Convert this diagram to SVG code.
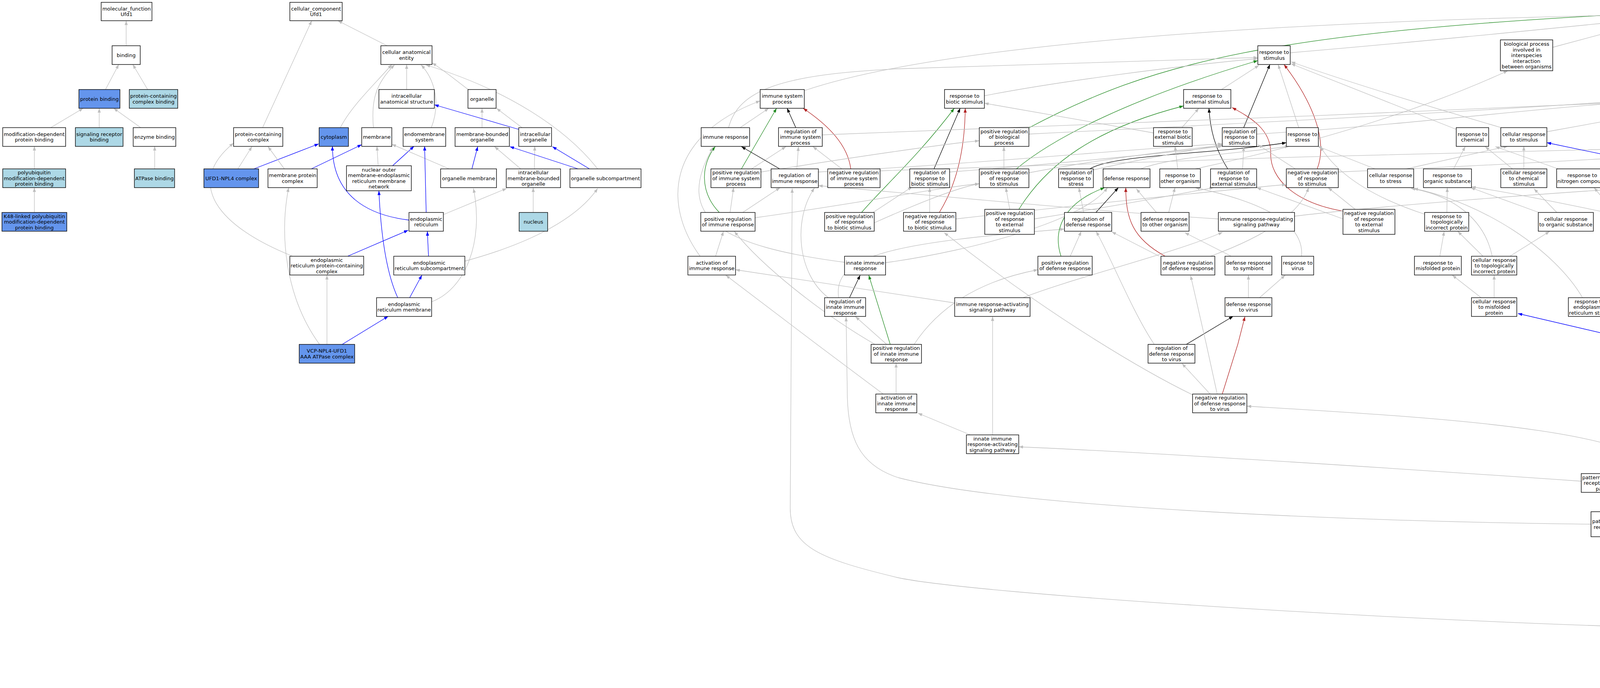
<svg xmlns="http://www.w3.org/2000/svg" width="6843" height="1760" viewBox="0 0 6843 1760">
<style>
.n rect{fill:#fff;stroke:#000;stroke-width:1.4}
.n.blue rect{fill:#6495ED}
.n.lb rect{fill:#ADD8E6}
.n text{font-family:"DejaVu Sans","Liberation Sans",sans-serif;font-size:13px;text-anchor:middle;fill:#000}
.e path{fill:none;stroke-width:1.3}
.e .g{stroke:#bfbfbf;marker-end:url(#mg)}
.e .k{stroke:#000;marker-end:url(#mk)}
.e .b{stroke:#0000ff;marker-end:url(#mb)}
.e .gr{stroke:#228b22;marker-end:url(#mgr)}
.e .r{stroke:#b22222;marker-end:url(#mr)}
</style>
<defs>
<marker id="mg" markerUnits="userSpaceOnUse" markerWidth="11" markerHeight="8" refX="11" refY="4" orient="auto" viewBox="0 0 11 8"><path d="M0,0 L11,4 L0,8 z" fill="#bfbfbf"/></marker>
<marker id="mk" markerUnits="userSpaceOnUse" markerWidth="11" markerHeight="8" refX="11" refY="4" orient="auto" viewBox="0 0 11 8"><path d="M0,0 L11,4 L0,8 z" fill="#000"/></marker>
<marker id="mb" markerUnits="userSpaceOnUse" markerWidth="11" markerHeight="8" refX="11" refY="4" orient="auto" viewBox="0 0 11 8"><path d="M0,0 L11,4 L0,8 z" fill="#0000ff"/></marker>
<marker id="mgr" markerUnits="userSpaceOnUse" markerWidth="11" markerHeight="8" refX="11" refY="4" orient="auto" viewBox="0 0 11 8"><path d="M0,0 L11,4 L0,8 z" fill="#228b22"/></marker>
<marker id="mr" markerUnits="userSpaceOnUse" markerWidth="11" markerHeight="8" refX="11" refY="4" orient="auto" viewBox="0 0 11 8"><path d="M0,0 L11,4 L0,8 z" fill="#b22222"/></marker>
</defs>
<rect width="6843" height="1760" fill="#fff"/>
<g id="edges" class="e">
<path class="g" d="M323,117 L323,53"/>
<path class="g" d="M270,229 L304,165"/>
<path class="g" d="M378,229 L340,165"/>
<path class="g" d="M129,327 L213,277"/>
<path class="g" d="M254,327 L254,277"/>
<path class="g" d="M361,327 L291,277"/>
<path class="g" d="M88,432 L88,374"/>
<path class="g" d="M396,432 L396,374"/>
<path class="g" d="M88,543 L88,480"/>
<path class="g" d="M991,117 L865,53"/>
<path class="g" d="M672,327 L798,53"/>
<path class="g" d="M1041,229 L1041,165"/>
<path class="g" d="M871,327 C900,270 960,215 1003,165"/>
<path class="g" d="M956,327 C950,260 960,215 1010,166"/>
<path class="g" d="M1104,327 C1130,260 1110,200 1078,166"/>
<path class="g" d="M1200,230 C1160,200 1130,175 1106,161"/>
<path class="g" d="M1530,432 C1450,330 1300,230 1090,166"/>
<path class="g" d="M1234,327 L1234,277"/>
<path class="g" d="M1337,327 L1271,277"/>
<path class="b" d="M1328,331 L1112,268"/>
<path class="g" d="M609,432 L645,375"/>
<path class="b" d="M650,432 L816,368"/>
<path class="g" d="M728,432 L686,375"/>
<path class="b" d="M797,432 L926,370"/>
<path class="g" d="M968,424 L965,374"/>
<path class="b" d="M1005,424 L1060,374"/>
<path class="g" d="M1150,432 L1003,369"/>
<path class="b" d="M1208,432 L1223,375"/>
<path class="g" d="M1333,432 L1266,375"/>
<path class="g" d="M1368,432 L1369,374"/>
<path class="b" d="M1480,432 L1305,375"/>
<path class="b" d="M1509,432 L1414,375"/>
<path class="g" d="M1365,543 L1365,480"/>
<path class="b" d="M1047,563 C940,550 851,500 851,374"/>
<path class="b" d="M1091,543 L1087,374"/>
<path class="g" d="M1135,549 L1297,482"/>
<path class="g" d="M748,655 C560,580 470,470 598,366"/>
<path class="b" d="M891,655 L1045,589"/>
<path class="b" d="M1097,655 L1094,592"/>
<path class="g" d="M1190,668 C1330,630 1470,570 1530,482"/>
<path class="b" d="M1018,761 C990,700 975,600 970,488"/>
<path class="b" d="M1049,761 L1080,704"/>
<path class="g" d="M1105,772 C1190,740 1240,620 1212,482"/>
<path class="g" d="M837,881 L837,704"/>
<path class="g" d="M818,881 C730,760 715,600 739,480"/>
<path class="b" d="M876,881 L994,809"/>
<path class="g" d="M4310,117 L4310,53"/>
<path class="k" d="M4216,229 C4205,150 4230,90 4271,53"/>
<path class="g" d="M4418,229 C4420,150 4400,90 4352,53"/>
<path class="g" d="M4241,229 L4290,165"/>
<path class="g" d="M3975,121 L4248,48"/>
<path class="gr" d="M2634,327 C2950,160 3250,80 4248,32"/>
<path class="r" d="M4710,326 L4356,53"/>
<path class="g" d="M2059,232 C2300,150 2900,60 4248,37"/>
<path class="g" d="M3303,135 C3600,110 3900,80 4248,45"/>
<path class="g" d="M5033,132 C4800,95 4500,50 4373,34"/>
<path class="g" d="M5712,232 C5500,150 4800,60 4373,40"/>
<path class="g" d="M6236,244 C5900,170 5000,60 4373,28"/>
<path class="g" d="M2520,245 C2700,210 3000,170 3220,150"/>
<path class="g" d="M3127,229 L3223,167"/>
<path class="g" d="M5096,229 L5096,165"/>
<path class="g" d="M5216,229 L5132,165"/>
<path class="g" d="M5341,229 L5161,163"/>
<path class="g" d="M5490,230 L5161,157"/>
<path class="g" d="M1865,327 C1890,230 2000,190 2300,176 L3220,147"/>
<path class="g" d="M1894,327 L1968,277"/>
<path class="k" d="M2037,326 L2015,277"/>
<path class="gr" d="M1898,432 L1988,277"/>
<path class="r" d="M2178,432 C2170,370 2120,320 2056,277"/>
<path class="g" d="M1924,432 L2012,375"/>
<path class="g" d="M2040,432 L2044,375"/>
<path class="g" d="M2155,432 L2081,375"/>
<path class="k" d="M1996,432 L1898,375"/>
<path class="gr" d="M1841,543 C1790,490 1795,420 1831,375"/>
<path class="g" d="M1869,543 L1878,480"/>
<path class="g" d="M1902,543 L1997,480"/>
<path class="g" d="M1832,655 L1852,592"/>
<path class="g" d="M1792,655 C1700,530 1700,350 1946,258"/>
<path class="g" d="M2162,671 C1850,630 1720,560 1825,377"/>
<path class="g" d="M2267,672 C2500,640 2780,560 2835,480"/>
<path class="k" d="M2175,761 L2202,704"/>
<path class="g" d="M2120,761 C2040,700 2030,560 2085,481"/>
<path class="g" d="M2147,761 C2130,650 2300,620 2725,586"/>
<path class="gr" d="M2279,881 L2224,704"/>
<path class="g" d="M2270,881 L2190,810"/>
<path class="g" d="M2240,881 C2100,800 1950,680 1880,592"/>
<path class="g" d="M2294,1008 L2294,929"/>
<path class="g" d="M2261,1008 L2090,880 L1858,704"/>
<path class="g" d="M2444,775 L1883,690"/>
<path class="g" d="M2620,761 C2750,710 3000,650 3130,594"/>
<path class="g" d="M2483,1112 L2350,1057"/>
<path class="g" d="M2541,1112 L2541,810"/>
<path class="g" d="M4048,1231 C3600,1200 3000,1160 2608,1143"/>
<path class="g" d="M2340,881 C2400,790 2500,720 2657,690"/>
<path class="k" d="M2391,432 L2458,277"/>
<path class="gr" d="M2206,543 C2260,480 2350,400 2443,277"/>
<path class="r" d="M2405,543 C2450,470 2470,380 2471,277"/>
<path class="g" d="M2953,340 L2520,264"/>
<path class="g" d="M3026,326 L3069,277"/>
<path class="k" d="M3184,326 L3251,165"/>
<path class="g" d="M3325,327 L3272,165"/>
<path class="gr" d="M2602,432 C2700,350 2900,250 3220,155"/>
<path class="r" d="M3372,432 C3400,360 3360,260 3287,165"/>
<path class="k" d="M3143,432 C3110,380 3098,330 3095,277"/>
<path class="gr" d="M2608,536 C2680,420 2800,330 3030,271"/>
<path class="r" d="M3438,540 C3320,520 3250,460 3253,390 C3253,330 3200,300 3154,275"/>
<path class="k" d="M2790,432 C2850,395 3100,395 3293,365"/>
<path class="g" d="M2790,437 C2900,410 3050,385 3129,370"/>
<path class="g" d="M2920,432 C3000,400 3200,390 3300,374"/>
<path class="g" d="M3015,432 L3008,374"/>
<path class="g" d="M3060,432 C3300,380 3600,300 3860,181"/>
<path class="g" d="M3181,432 L3184,375"/>
<path class="g" d="M3316,432 L3220,370"/>
<path class="g" d="M2570,432 L2570,375"/>
<path class="g" d="M2634,442 C2800,410 3000,385 3129,372"/>
<path class="g" d="M2634,343 C3100,320 3700,290 4160,258"/>
<path class="g" d="M2105,345 C2600,330 3500,290 4160,262"/>
<path class="g" d="M2253,437 C3000,410 4000,380 4675,368"/>
<path class="g" d="M1948,440 C2200,400 2400,370 2507,360"/>
<path class="g" d="M2095,440 C2500,420 2900,380 3129,368"/>
<path class="g" d="M1933,557 C2200,520 2400,480 2507,470"/>
<path class="g" d="M2431,440 C2700,420 3000,390 3129,374"/>
<path class="g" d="M3426,440 C3900,420 4400,390 4675,370"/>
<path class="g" d="M3217,343 C3600,320 3900,280 4160,262"/>
<path class="g" d="M2380,543 L2380,480"/>
<path class="g" d="M2447,560 C2800,520 3200,480 3293,472"/>
<path class="g" d="M2225,550 L2335,478"/>
<path class="g" d="M2238,570 C2350,520 2450,480 2507,470"/>
<path class="g" d="M2585,536 L2575,480"/>
<path class="g" d="M2648,560 C2900,520 3050,490 3107,480"/>
<path class="k" d="M2806,543 L2863,480"/>
<path class="g" d="M2774,543 L2762,480"/>
<path class="gr" d="M2716,655 C2695,590 2720,520 2828,480"/>
<path class="g" d="M2740,655 L2768,592"/>
<path class="r" d="M2982,655 C2900,610 2882,560 2882,480"/>
<path class="g" d="M2967,655 L2846,593"/>
<path class="g" d="M2960,543 L2909,483"/>
<path class="g" d="M2992,543 L3008,480"/>
<path class="g" d="M3151,655 L3033,595"/>
<path class="g" d="M3332,655 C3340,560 3200,510 3060,480"/>
<path class="g" d="M3196,761 L3196,704"/>
<path class="g" d="M3225,761 L3290,704"/>
<path class="k" d="M3037,881 L3157,809"/>
<path class="r" d="M3129,1008 L3169,880 L3187,810"/>
<path class="g" d="M3098,1008 L3026,930"/>
<path class="g" d="M3116,1008 L3088,880 L3048,705"/>
<path class="g" d="M2955,881 C2900,800 2840,650 2806,592"/>
<path class="g" d="M3053,1010 C2950,960 2700,820 2417,595"/>
<path class="g" d="M3314,553 C3500,530 4000,490 4305,474"/>
<path class="g" d="M3119,560 C2800,540 2400,500 2095,475"/>
<path class="g" d="M3470,536 L3400,480"/>
<path class="g" d="M3438,560 L3217,480"/>
<path class="g" d="M3100,655 C3250,600 3330,540 3350,480"/>
<path class="g" d="M3728,331 C3600,280 3400,200 3305,163"/>
<path class="g" d="M3845,327 C3650,270 3450,210 3305,158"/>
<path class="g" d="M3960,337 L4363,264"/>
<path class="g" d="M4221,327 L4221,277"/>
<path class="g" d="M4405,327 L4410,277"/>
<path class="k" d="M4513,327 L4451,277"/>
<path class="g" d="M4491,331 L4286,269"/>
<path class="r" d="M4714,432 C4670,380 4560,300 4473,269"/>
<path class="k" d="M4499,432 L4429,375"/>
<path class="g" d="M4535,432 L4540,374"/>
<path class="b" d="M4337,432 L4257,375"/>
<path class="b" d="M4378,432 L4391,375"/>
<path class="b" d="M4305,437 L3960,365"/>
<path class="g" d="M4345,432 C4310,380 4320,310 4370,277"/>
<path class="k" d="M4194,432 L4209,375"/>
<path class="g" d="M4176,432 C4165,370 4175,320 4195,277"/>
<path class="r" d="M4400,543 C4300,490 4240,420 4231,375"/>
<path class="g" d="M4389,543 L4228,482"/>
<path class="k" d="M4315,543 L4352,480"/>
<path class="g" d="M4275,543 L4213,480"/>
<path class="g" d="M4367,543 L4477,480"/>
<path class="r" d="M4499,655 C4550,580 4540,520 4433,483"/>
<path class="g" d="M4436,655 L4341,595"/>
<path class="g" d="M4470,655 L4462,592"/>
<path class="g" d="M4525,655 L4659,595"/>
<path class="g" d="M4521,553 C4600,535 4660,510 4690,480"/>
<path class="g" d="M4726,543 L4732,483"/>
<path class="g" d="M4680,543 L4578,482"/>
<path class="r" d="M4703,543 C4660,480 4600,420 4452,375"/>
<path class="g" d="M3520,432 L3373,374"/>
<path class="g" d="M3600,432 L3860,374"/>
<path class="g" d="M3721,432 L3751,375"/>
<path class="g" d="M3872,432 L3802,375"/>
<path class="g" d="M3901,432 L3901,374"/>
<path class="g" d="M3989,432 L3828,375"/>
<path class="g" d="M3704,543 L3705,480"/>
<path class="g" d="M3647,548 C3500,500 3420,440 3380,375"/>
<path class="g" d="M3938,543 L3765,480"/>
<path class="g" d="M3985,543 L3927,483"/>
<path class="g" d="M4132,543 L4081,480"/>
<path class="g" d="M4110,543 C3950,510 3850,490 3767,478"/>
<path class="g" d="M3686,655 L3697,592"/>
<path class="g" d="M3796,655 L3732,592"/>
<path class="g" d="M3866,655 L3967,592"/>
<path class="g" d="M3820,655 C3800,560 3720,500 3612,482"/>
<path class="g" d="M3791,761 L3718,704"/>
<path class="g" d="M3825,761 L3825,704"/>
<path class="g" d="M4051,761 C3980,640 3800,520 3619,482"/>
<path class="g" d="M4960,881 C4900,840 4700,820 4123,791"/>
<path class="k" d="M4908,327 C4940,260 5000,200 5055,166"/>
<path class="r" d="M4953,432 C4990,320 5010,230 5068,166"/>
<path class="g" d="M4933,432 L4910,374"/>
<path class="g" d="M4893,432 L4791,375"/>
<path class="g" d="M4675,365 C4500,330 4350,300 4283,275"/>
<path class="g" d="M4832,337 C4700,310 4450,280 4286,270"/>
<path class="g" d="M4739,432 L4739,374"/>
<path class="g" d="M4680,432 L4590,374"/>
<path class="g" d="M5247,327 L5248,277"/>
<path class="g" d="M5286,327 L5363,277"/>
<path class="g" d="M5402,327 L5402,277"/>
<path class="g" d="M5440,327 L5513,277"/>
<path class="g" d="M5515,327 L5443,277"/>
<path class="g" d="M5096,432 L5096,277"/>
<path class="g" d="M5132,432 L5209,375"/>
<path class="g" d="M5154,432 C5250,395 5400,380 5490,370"/>
<path class="g" d="M5249,432 L5248,374"/>
<path class="g" d="M5286,432 L5369,375"/>
<path class="g" d="M5402,432 L5402,374"/>
<path class="g" d="M5436,432 L5517,375"/>
<path class="k" d="M5589,432 L5564,375"/>
<path class="g" d="M5537,438 C5300,390 5100,370 4957,356"/>
<path class="r" d="M5531,543 C5515,480 5520,420 5539,375"/>
<path class="g" d="M5553,543 L5583,480"/>
<path class="g" d="M5472,556 L5011,482"/>
<path class="g" d="M5097,543 L5097,480"/>
<path class="g" d="M5193,543 L5124,483"/>
<path class="g" d="M5227,543 L5240,480"/>
<path class="g" d="M5259,543 L5363,480"/>
<path class="r" d="M5750,432 C5745,370 5748,320 5763,277"/>
<path class="k" d="M5816,326 L5792,277"/>
<path class="g" d="M5771,432 L5810,375"/>
<path class="g" d="M5687,443 C5300,420 5000,390 4808,372"/>
<path class="g" d="M6139,342 C5600,300 5000,265 4473,257"/>
<path class="g" d="M5763,340 C5300,300 4700,275 4283,265"/>
<path class="g" d="M5850,432 C5750,400 5680,380 5614,365"/>
<path class="k" d="M5814,543 L5876,480"/>
<path class="g" d="M5750,543 L5650,482"/>
<path class="r" d="M5814,655 C5860,600 5890,540 5895,480"/>
<path class="g" d="M5789,655 L5789,592"/>
<path class="g" d="M5730,655 L5598,594"/>
<path class="g" d="M6027,543 L5939,481"/>
<path class="g" d="M6052,543 C6020,440 5950,340 5836,277"/>
<path class="k" d="M5972,655 L6038,592"/>
<path class="g" d="M5953,655 C5990,500 5960,420 5897,372"/>
<path class="g" d="M5913,655 L5825,592"/>
<path class="r" d="M5964,761 C6030,720 6060,660 6060,592"/>
<path class="g" d="M5917,761 L5931,704"/>
<path class="g" d="M5876,761 L5818,704"/>
<path class="g" d="M5839,778 C5740,740 5680,620 5730,482"/>
<path class="g" d="M6127,655 L6085,592"/>
<path class="k" d="M6073,761 L6124,704"/>
<path class="g" d="M6027,761 L5972,704"/>
<path class="g" d="M6052,881 L6052,810"/>
<path class="g" d="M6023,881 L5939,810"/>
<path class="r" d="M6071,881 C6120,820 6140,760 6142,704"/>
<path class="g" d="M6223,327 L6258,277"/>
<path class="g" d="M6331,327 L6300,277"/>
<path class="g" d="M6491,432 C6460,350 6400,300 6320,272"/>
<path class="g" d="M6315,432 L6239,375"/>
<path class="g" d="M6349,432 L6349,374"/>
<path class="b" d="M6256,543 L6214,375"/>
<path class="g" d="M6313,540 L6456,483"/>
<path class="g" d="M6390,543 L6364,483"/>
<path class="g" d="M6577,543 L6525,483"/>
<path class="g" d="M6266,655 L6265,592"/>
<path class="g" d="M6239,655 C6190,600 6180,450 6199,375"/>
<path class="g" d="M6308,665 L6561,584"/>
<path class="g" d="M6446,655 L6419,592"/>
<path class="g" d="M6467,655 C6480,590 6495,530 6500,480"/>
<path class="g" d="M6614,655 L6605,592"/>
<path class="g" d="M6733,655 L6639,592"/>
<path class="g" d="M6522,761 L6481,704"/>
<path class="g" d="M6558,761 L6596,704"/>
<path class="g" d="M6591,761 L6712,704"/>
<path class="g" d="M6382,881 L6500,810"/>
<path class="g" d="M6338,881 C6320,800 6290,750 6276,704"/>
<path class="b" d="M6346,881 C6348,760 6360,650 6386,594"/>
<path class="g" d="M6206,1008 C6220,900 6245,780 6260,704"/>
<path class="g" d="M6346,1008 L6346,929"/>
<path class="g" d="M6202,1112 L6202,1056"/>
<path class="g" d="M6236,1112 L6313,1057"/>
<path class="b" d="M6140,1135 C5700,1128 5150,1110 5069,1065 C5030,1040 5010,980 4999,930"/>
<path class="g" d="M5100,648 L5098,592"/>
<path class="b" d="M5134,648 L5193,592"/>
<path class="g" d="M5100,761 L5100,712"/>
<path class="g" d="M5130,761 C5170,710 5200,650 5211,592"/>
<path class="g" d="M5225,761 L5157,713"/>
<path class="g" d="M5276,761 L5308,704"/>
<path class="g" d="M5333,655 L5391,592"/>
<path class="g" d="M5242,881 L5253,811"/>
<path class="g" d="M5174,1000 L5215,930"/>
<path class="g" d="M5146,1000 L5121,880 L5106,811"/>
<path class="g" d="M4915,858 L5066,713"/>
<path class="g" d="M5000,881 L5070,811"/>
<path class="g" d="M4864,1008 L4864,952"/>
<path class="g" d="M4890,1008 L4967,930"/>
<path class="b" d="M4804,1016 L3886,802"/>
<path class="g" d="M5049,1112 C5020,1060 5000,1000 4992,930"/>
<path class="g" d="M5090,1112 L5127,1065"/>
<path class="k" d="M4124,1309 L4114,1260"/>
<path class="g" d="M4166,1309 C4240,1100 4300,800 4300,594"/>
<path class="g" d="M4073,1341 C3500,1335 2600,1300 2300,1222 C2200,1190 2169,1120 2169,1000 L2166,811"/>
<path class="g" d="M4359,1318 L4179,1260"/>
<path class="g" d="M4424,1309 L4424,1260"/>
<path class="g" d="M4440,1211 C4560,1000 4590,750 4425,481"/>
<path class="k" d="M4390,1422 L4407,1373"/>
<path class="g" d="M4304,1433 L4202,1373"/>
<path class="g" d="M4574,1443 L4473,1373"/>
<path class="r" d="M4418,1562 C4450,1510 4460,1440 4440,1373"/>
<path class="g" d="M4370,1562 L4370,1515"/>
<path class="g" d="M4321,1562 C4270,1450 4268,1300 4268,1240 C4268,1100 3700,1070 3192,1039"/>
<path class="g" d="M4304,1607 C3600,1590 2500,1520 2300,1478 C2100,1430 2023,1400 2023,1300 L2028,482"/>
<path class="g" d="M4440,1562 C4530,1400 4510,1000 4480,705"/>
<path class="k" d="M4533,1585 L4594,1492"/>
<path class="g" d="M4491,1585 L4422,1515"/>
<path class="g" d="M4517,1705 L4517,1634"/>
<path class="g" d="M4487,1705 L4433,1656"/>
<path class="r" d="M4543,1705 C4590,1640 4605,1570 4611,1492"/>
</g>
<g id="nodes">
<g id="mf" class="n"><rect x="259" y="6" width="130" height="47"/><text x="324" y="26.75">molecular_function<tspan x="324" dy="14.5">Ufd1</tspan></text></g>
<g id="binding" class="n"><rect x="287" y="117" width="72" height="48"/><text x="323" y="145.5">binding</text></g>
<g id="protbind" class="n blue"><rect x="202" y="229" width="105" height="48"/><text x="254.5" y="257.5">protein binding</text></g>
<g id="pcbind" class="n lb"><rect x="331" y="229" width="124" height="48"/><text x="393" y="250.25">protein-containing<tspan x="393" dy="14.5">complex binding</tspan></text></g>
<g id="moddep" class="n"><rect x="7" y="326.5" width="161" height="48"/><text x="87.5" y="347.75">modification-dependent<tspan x="87.5" dy="14.5">protein binding</tspan></text></g>
<g id="sigrec" class="n lb"><rect x="193" y="326.5" width="122" height="48"/><text x="254" y="347.75">signaling receptor<tspan x="254" dy="14.5">binding</tspan></text></g>
<g id="enzbind" class="n"><rect x="341" y="326.5" width="109" height="48"/><text x="395.5" y="355">enzyme binding</text></g>
<g id="polyub" class="n lb"><rect x="7" y="432" width="161" height="48"/><text x="87.5" y="446">polyubiquitin<tspan x="87.5" dy="14.5">modification-dependent</tspan><tspan x="87.5" dy="14.5">protein binding</tspan></text></g>
<g id="atpase" class="n lb"><rect x="344" y="432" width="103" height="48"/><text x="395.5" y="460.5">ATPase binding</text></g>
<g id="k48" class="n blue"><rect x="5" y="543.5" width="166" height="48"/><text x="88" y="557.5">K48-linked polyubiquitin<tspan x="88" dy="14.5">modification-dependent</tspan><tspan x="88" dy="14.5">protein binding</tspan></text></g>
<g id="cc" class="n"><rect x="742" y="6" width="134" height="47"/><text x="809" y="26.75">cellular_component<tspan x="809" dy="14.5">Ufd1</tspan></text></g>
<g id="cae" class="n"><rect x="975" y="117" width="131" height="48"/><text x="1040.5" y="138.25">cellular anatomical<tspan x="1040.5" dy="14.5">entity</tspan></text></g>
<g id="ias" class="n"><rect x="970" y="229" width="142" height="48"/><text x="1041" y="250.25">intracellular<tspan x="1041" dy="14.5">anatomical structure</tspan></text></g>
<g id="organelle" class="n"><rect x="1198" y="229" width="72" height="48"/><text x="1234" y="257.5">organelle</text></g>
<g id="pcc" class="n"><rect x="598" y="326.5" width="126" height="48"/><text x="661" y="347.75">protein-containing<tspan x="661" dy="14.5">complex</tspan></text></g>
<g id="cytoplasm" class="n blue"><rect x="817" y="326.5" width="75" height="48"/><text x="854.5" y="355">cytoplasm</text></g>
<g id="membrane" class="n"><rect x="926" y="326.5" width="77" height="48"/><text x="964.5" y="355">membrane</text></g>
<g id="endomem" class="n"><rect x="1032" y="326.5" width="109" height="48"/><text x="1086.5" y="347.75">endomembrane<tspan x="1086.5" dy="14.5">system</tspan></text></g>
<g id="mbo" class="n"><rect x="1165" y="326.5" width="139" height="48"/><text x="1234.5" y="347.75">membrane-bounded<tspan x="1234.5" dy="14.5">organelle</tspan></text></g>
<g id="io" class="n"><rect x="1328" y="326.5" width="84" height="48"/><text x="1370" y="347.75">intracellular<tspan x="1370" dy="14.5">organelle</tspan></text></g>
<g id="ufd1npl4" class="n blue"><rect x="522" y="432" width="140" height="48"/><text x="592" y="460.5">UFD1-NPL4 complex</text></g>
<g id="mpc" class="n"><rect x="686" y="432" width="126" height="48"/><text x="749" y="453.25">membrane protein<tspan x="749" dy="14.5">complex</tspan></text></g>
<g id="nomer" class="n"><rect x="887" y="424" width="166" height="64"/><text x="970" y="438.75">nuclear outer<tspan x="970" dy="14.5">membrane-endoplasmic</tspan><tspan x="970" dy="14.5">reticulum membrane</tspan><tspan x="970" dy="14.5">network</tspan></text></g>
<g id="orgmem" class="n"><rect x="1128" y="432" width="143" height="48"/><text x="1199.5" y="460.5">organelle membrane</text></g>
<g id="imbo" class="n"><rect x="1296" y="432" width="139" height="48"/><text x="1365.5" y="446">intracellular<tspan x="1365.5" dy="14.5">membrane-bounded</tspan><tspan x="1365.5" dy="14.5">organelle</tspan></text></g>
<g id="orgsub" class="n"><rect x="1459" y="432" width="182" height="48"/><text x="1550" y="460.5">organelle subcompartment</text></g>
<g id="er" class="n"><rect x="1047" y="543.5" width="88" height="48"/><text x="1091" y="564.75">endoplasmic<tspan x="1091" dy="14.5">reticulum</tspan></text></g>
<g id="nucleus" class="n lb"><rect x="1329" y="543.5" width="73" height="48"/><text x="1365.5" y="572">nucleus</text></g>
<g id="erpcc" class="n"><rect x="742" y="655.5" width="189" height="48"/><text x="836.5" y="669.5">endoplasmic<tspan x="836.5" dy="14.5">reticulum protein-containing</tspan><tspan x="836.5" dy="14.5">complex</tspan></text></g>
<g id="ersub" class="n"><rect x="1008" y="655.5" width="182" height="48"/><text x="1099" y="676.75">endoplasmic<tspan x="1099" dy="14.5">reticulum subcompartment</tspan></text></g>
<g id="ermem" class="n"><rect x="964" y="761.5" width="141" height="48"/><text x="1034.5" y="782.75">endoplasmic<tspan x="1034.5" dy="14.5">reticulum membrane</tspan></text></g>
<g id="vcp" class="n blue"><rect x="766" y="881" width="142" height="48"/><text x="837" y="902.25">VCP-NPL4-UFD1<tspan x="837" dy="14.5">AAA ATPase complex</tspan></text></g>
<g id="bp" class="n"><rect x="4248" y="6" width="125" height="47"/><text x="4310.5" y="26.75">biological_process<tspan x="4310.5" dy="14.5">Ufd1</tspan></text></g>
<g id="interspecies" class="n"><rect x="3841" y="102" width="134" height="79"/><text x="3908" y="117">biological process<tspan x="3908" dy="14.5">involved in</tspan><tspan x="3908" dy="14.5">interspecies</tspan><tspan x="3908" dy="14.5">interaction</tspan><tspan x="3908" dy="14.5">between organisms</tspan></text></g>
<g id="bioreg" class="n"><rect x="4241" y="117" width="139" height="48"/><text x="4310.5" y="145.5">biological regulation</text></g>
<g id="rstim" class="n"><rect x="3220" y="117" width="83" height="48"/><text x="3261.5" y="138.25">response to<tspan x="3261.5" dy="14.5">stimulus</tspan></text></g>
<g id="metab" class="n"><rect x="5033" y="117" width="126" height="48"/><text x="5096" y="145.5">metabolic process</text></g>
<g id="isp" class="n"><rect x="1946" y="229" width="113" height="48"/><text x="2002.5" y="250.25">immune system<tspan x="2002.5" dy="14.5">process</tspan></text></g>
<g id="rbiotic" class="n"><rect x="2418" y="229" width="102" height="48"/><text x="2469" y="250.25">response to<tspan x="2469" dy="14.5">biotic stimulus</tspan></text></g>
<g id="rext" class="n"><rect x="3030" y="229" width="121" height="48"/><text x="3090.5" y="250.25">response to<tspan x="3090.5" dy="14.5">external stimulus</tspan></text></g>
<g id="regbp" class="n"><rect x="4160" y="229" width="123" height="48"/><text x="4221.5" y="250.25">regulation of<tspan x="4221.5" dy="14.5">biological process</tspan></text></g>
<g id="cellproc" class="n"><rect x="4363" y="229" width="108" height="48"/><text x="4417" y="257.5">cellular process</text></g>
<g id="primmet" class="n"><rect x="5033" y="229" width="126" height="48"/><text x="5096" y="250.25">primary metabolic<tspan x="5096" dy="14.5">process</tspan></text></g>
<g id="ncmet" class="n"><rect x="5184" y="229" width="131" height="48"/><text x="5249.5" y="250.25">nitrogen compound<tspan x="5249.5" dy="14.5">metabolic process</tspan></text></g>
<g id="osmet" class="n"><rect x="5340" y="229" width="125" height="48"/><text x="5402.5" y="250.25">organic substance<tspan x="5402.5" dy="14.5">metabolic process</tspan></text></g>
<g id="catab" class="n"><rect x="5490" y="229" width="118" height="48"/><text x="5549" y="257.5">catabolic process</text></g>
<g id="multi" class="n"><rect x="5712" y="229" width="134" height="48"/><text x="5779" y="250.25">multicellular<tspan x="5779" dy="14.5">organismal process</tspan></text></g>
<g id="loc" class="n"><rect x="6236" y="229" width="82" height="48"/><text x="6277" y="257.5">localization</text></g>
<g id="immresp" class="n"><rect x="1795" y="326.5" width="124" height="48"/><text x="1857" y="355">immune response</text></g>
<g id="regisp" class="n"><rect x="1993" y="326.5" width="112" height="48"/><text x="2049" y="340.5">regulation of<tspan x="2049" dy="14.5">immune system</tspan><tspan x="2049" dy="14.5">process</tspan></text></g>
<g id="posregbp" class="n"><rect x="2507" y="326.5" width="127" height="48"/><text x="2570.5" y="340.5">positive regulation<tspan x="2570.5" dy="14.5">of biological</tspan><tspan x="2570.5" dy="14.5">process</tspan></text></g>
<g id="rextbiotic" class="n"><rect x="2953" y="326.5" width="99" height="48"/><text x="3002.5" y="340.5">response to<tspan x="3002.5" dy="14.5">external biotic</tspan><tspan x="3002.5" dy="14.5">stimulus</tspan></text></g>
<g id="regrstim" class="n"><rect x="3129" y="326.5" width="88" height="48"/><text x="3173" y="340.5">regulation of<tspan x="3173" dy="14.5">response to</tspan><tspan x="3173" dy="14.5">stimulus</tspan></text></g>
<g id="rstress" class="n"><rect x="3293" y="326.5" width="82" height="48"/><text x="3334" y="347.75">response to<tspan x="3334" dy="14.5">stress</tspan></text></g>
<g id="rchem" class="n"><rect x="3728" y="326.5" width="83" height="48"/><text x="3769.5" y="347.75">response to<tspan x="3769.5" dy="14.5">chemical</tspan></text></g>
<g id="crstim" class="n"><rect x="3842" y="326.5" width="118" height="48"/><text x="3901" y="347.75">cellular response<tspan x="3901" dy="14.5">to stimulus</tspan></text></g>
<g id="signaling" class="n"><rect x="4185" y="326.5" width="72" height="48"/><text x="4221" y="355">signaling</text></g>
<g id="cellcomm" class="n"><rect x="4333" y="326.5" width="134" height="48"/><text x="4400" y="355">cell communication</text></g>
<g id="regcp" class="n"><rect x="4491" y="326.5" width="107" height="48"/><text x="4544.5" y="347.75">regulation of<tspan x="4544.5" dy="14.5">cellular process</tspan></text></g>
<g id="negregbp" class="n"><rect x="4675" y="326.5" width="133" height="48"/><text x="4741.5" y="340.5">negative regulation<tspan x="4741.5" dy="14.5">of biological</tspan><tspan x="4741.5" dy="14.5">process</tspan></text></g>
<g id="regmet" class="n"><rect x="4832" y="326.5" width="125" height="48"/><text x="4894.5" y="347.75">regulation of<tspan x="4894.5" dy="14.5">metabolic process</tspan></text></g>
<g id="oncmet" class="n"><rect x="5174" y="326.5" width="143" height="48"/><text x="5245.5" y="340.5">organonitrogen<tspan x="5245.5" dy="14.5">compound metabolic</tspan><tspan x="5245.5" dy="14.5">process</tspan></text></g>
<g id="oscat" class="n"><rect x="5341" y="326.5" width="123" height="48"/><text x="5402.5" y="347.75">organic substance<tspan x="5402.5" dy="14.5">catabolic process</tspan></text></g>
<g id="macromet" class="n"><rect x="5489" y="326.5" width="125" height="48"/><text x="5551.5" y="347.75">macromolecule<tspan x="5551.5" dy="14.5">metabolic process</tspan></text></g>
<g id="regmulti" class="n"><rect x="5763" y="326.5" width="135" height="48"/><text x="5830.5" y="340.5">regulation of<tspan x="5830.5" dy="14.5">multicellular</tspan><tspan x="5830.5" dy="14.5">organismal process</tspan></text></g>
<g id="cellloc" class="n"><rect x="6139" y="326.5" width="133" height="48"/><text x="6205.5" y="355">cellular localization</text></g>
<g id="macroloc" class="n"><rect x="6296" y="326.5" width="107" height="48"/><text x="6349.5" y="347.75">macromolecule<tspan x="6349.5" dy="14.5">localization</tspan></text></g>
<g id="posregisp" class="n"><rect x="1820" y="432" width="128" height="48"/><text x="1884" y="446">positive regulation<tspan x="1884" dy="14.5">of immune system</tspan><tspan x="1884" dy="14.5">process</tspan></text></g>
<g id="regimm" class="n"><rect x="1974" y="432" width="121" height="48"/><text x="2034.5" y="453.25">regulation of<tspan x="2034.5" dy="14.5">immune response</tspan></text></g>
<g id="negregisp" class="n"><rect x="2119" y="432" width="134" height="48"/><text x="2186" y="446">negative regulation<tspan x="2186" dy="14.5">of immune system</tspan><tspan x="2186" dy="14.5">process</tspan></text></g>
<g id="regrbiotic" class="n"><rect x="2329" y="432" width="102" height="48"/><text x="2380" y="446">regulation of<tspan x="2380" dy="14.5">response to</tspan><tspan x="2380" dy="14.5">biotic stimulus</tspan></text></g>
<g id="posregrstim" class="n"><rect x="2507" y="432" width="127" height="48"/><text x="2570.5" y="446">positive regulation<tspan x="2570.5" dy="14.5">of response</tspan><tspan x="2570.5" dy="14.5">to stimulus</tspan></text></g>
<g id="regrstress" class="n"><rect x="2710" y="432" width="89" height="48"/><text x="2754.5" y="446">regulation of<tspan x="2754.5" dy="14.5">response to</tspan><tspan x="2754.5" dy="14.5">stress</tspan></text></g>
<g id="defresp" class="n"><rect x="2824" y="432" width="120" height="48"/><text x="2884" y="460.5">defense response</text></g>
<g id="rother" class="n"><rect x="2969" y="432" width="104" height="48"/><text x="3021" y="453.25">response to<tspan x="3021" dy="14.5">other organism</tspan></text></g>
<g id="regrext" class="n"><rect x="3099" y="432" width="118" height="48"/><text x="3158" y="446">regulation of<tspan x="3158" dy="14.5">response to</tspan><tspan x="3158" dy="14.5">external stimulus</tspan></text></g>
<g id="negregrstim" class="n"><rect x="3293" y="432" width="133" height="48"/><text x="3359.5" y="446">negative regulation<tspan x="3359.5" dy="14.5">of response</tspan><tspan x="3359.5" dy="14.5">to stimulus</tspan></text></g>
<g id="crstress" class="n"><rect x="3501" y="432" width="118" height="48"/><text x="3560" y="453.25">cellular response<tspan x="3560" dy="14.5">to stress</tspan></text></g>
<g id="rorg" class="n"><rect x="3644" y="432" width="123" height="48"/><text x="3705.5" y="453.25">response to<tspan x="3705.5" dy="14.5">organic substance</tspan></text></g>
<g id="crchem" class="n"><rect x="3842" y="432" width="118" height="48"/><text x="3901" y="446">cellular response<tspan x="3901" dy="14.5">to chemical</tspan><tspan x="3901" dy="14.5">stimulus</tspan></text></g>
<g id="rnitro" class="n"><rect x="3985" y="432" width="131" height="48"/><text x="4050.5" y="453.25">response to<tspan x="4050.5" dy="14.5">nitrogen compound</tspan></text></g>
<g id="regsig" class="n"><rect x="4141" y="432" width="88" height="48"/><text x="4185" y="453.25">regulation of<tspan x="4185" dy="14.5">signaling</tspan></text></g>
<g id="sigtrans" class="n"><rect x="4305" y="432" width="131" height="48"/><text x="4370.5" y="460.5">signal transduction</text></g>
<g id="regcc" class="n"><rect x="4461" y="432" width="134" height="48"/><text x="4528" y="453.25">regulation of<tspan x="4528" dy="14.5">cell communication</tspan></text></g>
<g id="negregcp" class="n"><rect x="4670" y="432" width="134" height="48"/><text x="4737" y="446">negative regulation<tspan x="4737" dy="14.5">of cellular</tspan><tspan x="4737" dy="14.5">process</tspan></text></g>
<g id="negregmet" class="n"><rect x="4879" y="432" width="132" height="48"/><text x="4945" y="446">negative regulation<tspan x="4945" dy="14.5">of metabolic</tspan><tspan x="4945" dy="14.5">process</tspan></text></g>
<g id="protmet" class="n"><rect x="5036" y="432" width="121" height="48"/><text x="5096.5" y="453.25">protein metabolic<tspan x="5096.5" dy="14.5">process</tspan></text></g>
<g id="onccat" class="n"><rect x="5182" y="432" width="137" height="48"/><text x="5250.5" y="446">organonitrogen<tspan x="5250.5" dy="14.5">compound catabolic</tspan><tspan x="5250.5" dy="14.5">process</tspan></text></g>
<g id="macrocat" class="n"><rect x="5344" y="432" width="117" height="48"/><text x="5402.5" y="453.25">macromolecule<tspan x="5402.5" dy="14.5">catabolic process</tspan></text></g>
<g id="regmacromet" class="n"><rect x="5537" y="432" width="125" height="48"/><text x="5599.5" y="446">regulation of<tspan x="5599.5" dy="14.5">macromolecule</tspan><tspan x="5599.5" dy="14.5">metabolic process</tspan></text></g>
<g id="negregmulti" class="n"><rect x="5687" y="432" width="133" height="48"/><text x="5753.5" y="446">negative regulation<tspan x="5753.5" dy="14.5">of multicellular</tspan><tspan x="5753.5" dy="14.5">organismal process</tspan></text></g>
<g id="geneexp" class="n"><rect x="5845" y="432" width="113" height="48"/><text x="5901.5" y="460.5">gene expression</text></g>
<g id="cmacroloc" class="n"><rect x="6270" y="432" width="159" height="48"/><text x="6349.5" y="453.25">cellular macromolecule<tspan x="6349.5" dy="14.5">localization</tspan></text></g>
<g id="estloc" class="n"><rect x="6455" y="432" width="98" height="48"/><text x="6504" y="453.25">establishment<tspan x="6504" dy="14.5">of localization</tspan></text></g>
<g id="posregimm" class="n"><rect x="1794" y="543.5" width="139" height="48"/><text x="1863.5" y="564.75">positive regulation<tspan x="1863.5" dy="14.5">of immune response</tspan></text></g>
<g id="posregrbiotic" class="n"><rect x="2111" y="543.5" width="127" height="48"/><text x="2174.5" y="557.5">positive regulation<tspan x="2174.5" dy="14.5">of response</tspan><tspan x="2174.5" dy="14.5">to biotic stimulus</tspan></text></g>
<g id="negregrbiotic" class="n"><rect x="2313" y="543.5" width="134" height="48"/><text x="2380" y="557.5">negative regulation<tspan x="2380" dy="14.5">of response</tspan><tspan x="2380" dy="14.5">to biotic stimulus</tspan></text></g>
<g id="posregrext" class="n"><rect x="2521" y="535.5" width="127" height="64"/><text x="2584.5" y="550.25">positive regulation<tspan x="2584.5" dy="14.5">of response</tspan><tspan x="2584.5" dy="14.5">to external</tspan><tspan x="2584.5" dy="14.5">stimulus</tspan></text></g>
<g id="regdef" class="n"><rect x="2725" y="543.5" width="121" height="48"/><text x="2785.5" y="564.75">regulation of<tspan x="2785.5" dy="14.5">defense response</tspan></text></g>
<g id="defother" class="n"><rect x="2921" y="543.5" width="123" height="48"/><text x="2982.5" y="564.75">defense response<tspan x="2982.5" dy="14.5">to other organism</tspan></text></g>
<g id="irrsp" class="n"><rect x="3119" y="543.5" width="195" height="48"/><text x="3216.5" y="564.75">immune response-regulating<tspan x="3216.5" dy="14.5">signaling pathway</tspan></text></g>
<g id="negregrext" class="n"><rect x="3438" y="535.5" width="133" height="64"/><text x="3504.5" y="550.25">negative regulation<tspan x="3504.5" dy="14.5">of response</tspan><tspan x="3504.5" dy="14.5">to external</tspan><tspan x="3504.5" dy="14.5">stimulus</tspan></text></g>
<g id="rtip" class="n"><rect x="3647" y="543.5" width="113" height="48"/><text x="3703.5" y="557.5">response to<tspan x="3703.5" dy="14.5">topologically</tspan><tspan x="3703.5" dy="14.5">incorrect protein</tspan></text></g>
<g id="crorg" class="n"><rect x="3938" y="543.5" width="141" height="48"/><text x="4008.5" y="564.75">cellular response<tspan x="4008.5" dy="14.5">to organic substance</tspan></text></g>
<g id="ronc" class="n"><rect x="4103" y="543.5" width="105" height="48"/><text x="4155.5" y="557.5">response to<tspan x="4155.5" dy="14.5">organonitrogen</tspan><tspan x="4155.5" dy="14.5">compound</tspan></text></g>
<g id="regst" class="n"><rect x="4233" y="543.5" width="131" height="48"/><text x="4298.5" y="564.75">regulation of<tspan x="4298.5" dy="14.5">signal transduction</tspan></text></g>
<g id="negregsig" class="n"><rect x="4388" y="543.5" width="133" height="48"/><text x="4454.5" y="564.75">negative regulation<tspan x="4454.5" dy="14.5">of signaling</tspan></text></g>
<g id="negregcc" class="n"><rect x="4648" y="543.5" width="149" height="48"/><text x="4722.5" y="564.75">negative regulation<tspan x="4722.5" dy="14.5">of cell communication</tspan></text></g>
<g id="proteolysis" class="n"><rect x="5058" y="543.5" width="78" height="48"/><text x="5097" y="572">proteolysis</text></g>
<g id="protcat" class="n"><rect x="5161" y="543.5" width="114" height="48"/><text x="5218" y="564.75">protein catabolic<tspan x="5218" dy="14.5">process</tspan></text></g>
<g id="negregmacromet" class="n"><rect x="5472" y="543.5" width="133" height="48"/><text x="5538.5" y="557.5">negative regulation<tspan x="5538.5" dy="14.5">of macromolecule</tspan><tspan x="5538.5" dy="14.5">metabolic process</tspan></text></g>
<g id="reggeneexp" class="n"><rect x="5735" y="543.5" width="112" height="48"/><text x="5791" y="564.75">regulation of<tspan x="5791" dy="14.5">gene expression</tspan></text></g>
<g id="cytokine" class="n"><rect x="5996" y="543.5" width="133" height="48"/><text x="6062.5" y="572">cytokine production</text></g>
<g id="estloccell" class="n"><rect x="6214" y="543.5" width="99" height="48"/><text x="6263.5" y="557.5">establishment<tspan x="6263.5" dy="14.5">of localization</tspan><tspan x="6263.5" dy="14.5">in cell</tspan></text></g>
<g id="protloc" class="n"><rect x="6337" y="543.5" width="130" height="48"/><text x="6402" y="572">protein localization</text></g>
<g id="transport" class="n"><rect x="6561" y="543.5" width="72" height="48"/><text x="6597" y="572">transport</text></g>
<g id="actimm" class="n"><rect x="1761" y="655.5" width="122" height="48"/><text x="1822" y="676.75">activation of<tspan x="1822" dy="14.5">immune response</tspan></text></g>
<g id="innate" class="n"><rect x="2162" y="655.5" width="105" height="48"/><text x="2214.5" y="676.75">innate immune<tspan x="2214.5" dy="14.5">response</tspan></text></g>
<g id="posregdef" class="n"><rect x="2657" y="655.5" width="139" height="48"/><text x="2726.5" y="676.75">positive regulation<tspan x="2726.5" dy="14.5">of defense response</tspan></text></g>
<g id="negregdef" class="n"><rect x="2972" y="655.5" width="138" height="48"/><text x="3041" y="676.75">negative regulation<tspan x="3041" dy="14.5">of defense response</tspan></text></g>
<g id="defsym" class="n"><rect x="3136" y="655.5" width="120" height="48"/><text x="3196" y="676.75">defense response<tspan x="3196" dy="14.5">to symbiont</tspan></text></g>
<g id="rvirus" class="n"><rect x="3281" y="655.5" width="82" height="48"/><text x="3322" y="676.75">response to<tspan x="3322" dy="14.5">virus</tspan></text></g>
<g id="rmisf" class="n"><rect x="3621" y="655.5" width="120" height="48"/><text x="3681" y="676.75">response to<tspan x="3681" dy="14.5">misfolded protein</tspan></text></g>
<g id="crtip" class="n"><rect x="3767" y="655.5" width="116" height="48"/><text x="3825" y="669.5">cellular response<tspan x="3825" dy="14.5">to topologically</tspan><tspan x="3825" dy="14.5">incorrect protein</tspan></text></g>
<g id="negregst" class="n"><rect x="4403" y="655.5" width="146" height="48"/><text x="4476" y="676.75">negative regulation<tspan x="4476" dy="14.5">of signal transduction</tspan></text></g>
<g id="proteolpcp" class="n"><rect x="5043" y="647.5" width="114" height="64"/><text x="5100" y="662.25">proteolysis<tspan x="5100" dy="14.5">involved in</tspan><tspan x="5100" dy="14.5">protein catabolic</tspan><tspan x="5100" dy="14.5">process</tspan></text></g>
<g id="mdmcp" class="n"><rect x="5244" y="655.5" width="160" height="48"/><text x="5324" y="669.5">modification-dependent<tspan x="5324" dy="14.5">macromolecule</tspan><tspan x="5324" dy="14.5">catabolic process</tspan></text></g>
<g id="negreggeneexp" class="n"><rect x="5722" y="655.5" width="132" height="48"/><text x="5788" y="676.75">negative regulation<tspan x="5788" dy="14.5">of gene expression</tspan></text></g>
<g id="regcyto" class="n"><rect x="5880" y="655.5" width="134" height="48"/><text x="5947" y="676.75">regulation of<tspan x="5947" dy="14.5">cytokine production</tspan></text></g>
<g id="ifnprod" class="n"><rect x="6091" y="655.5" width="109" height="48"/><text x="6145.5" y="676.75">type I interferon<tspan x="6145.5" dy="14.5">production</tspan></text></g>
<g id="inttrans" class="n"><rect x="6225" y="655.5" width="83" height="48"/><text x="6266.5" y="676.75">intracellular<tspan x="6266.5" dy="14.5">transport</tspan></text></g>
<g id="estprotloc" class="n"><rect x="6385" y="655.5" width="147" height="48"/><text x="6458.5" y="676.75">establishment<tspan x="6458.5" dy="14.5">of protein localization</tspan></text></g>
<g id="ostrans" class="n"><rect x="6557" y="655.5" width="123" height="48"/><text x="6618.5" y="676.75">organic substance<tspan x="6618.5" dy="14.5">transport</tspan></text></g>
<g id="nctrans" class="n"><rect x="6704" y="655.5" width="132" height="48"/><text x="6770" y="676.75">nitrogen compound<tspan x="6770" dy="14.5">transport</tspan></text></g>
<g id="reginnate" class="n"><rect x="2111" y="761.5" width="105" height="48"/><text x="2163.5" y="775.5">regulation of<tspan x="2163.5" dy="14.5">innate immune</tspan><tspan x="2163.5" dy="14.5">response</tspan></text></g>
<g id="irasp" class="n"><rect x="2444" y="761.5" width="193" height="48"/><text x="2540.5" y="782.75">immune response-activating<tspan x="2540.5" dy="14.5">signaling pathway</tspan></text></g>
<g id="drv" class="n"><rect x="3136" y="761.5" width="120" height="48"/><text x="3196" y="782.75">defense response<tspan x="3196" dy="14.5">to virus</tspan></text></g>
<g id="crmisf" class="n"><rect x="3767" y="761.5" width="116" height="48"/><text x="3825" y="775.5">cellular response<tspan x="3825" dy="14.5">to misfolded</tspan><tspan x="3825" dy="14.5">protein</tspan></text></g>
<g id="rerstress" class="n"><rect x="4015" y="761.5" width="108" height="48"/><text x="4069" y="775.5">response to<tspan x="4069" dy="14.5">endoplasmic</tspan><tspan x="4069" dy="14.5">reticulum stress</tspan></text></g>
<g id="proteasomal" class="n"><rect x="5043" y="761.5" width="114" height="48"/><text x="5100" y="775.5">proteasomal<tspan x="5100" dy="14.5">protein catabolic</tspan><tspan x="5100" dy="14.5">process</tspan></text></g>
<g id="mdpcp" class="n"><rect x="5182" y="761.5" width="161" height="48"/><text x="5262.5" y="775.5">modification-dependent<tspan x="5262.5" dy="14.5">protein catabolic</tspan><tspan x="5262.5" dy="14.5">process</tspan></text></g>
<g id="negregcyto" class="n"><rect x="5839" y="761.5" width="133" height="48"/><text x="5905.5" y="775.5">negative regulation<tspan x="5905.5" dy="14.5">of cytokine</tspan><tspan x="5905.5" dy="14.5">production</tspan></text></g>
<g id="regifn" class="n"><rect x="5997" y="761.5" width="110" height="48"/><text x="6052" y="775.5">regulation of<tspan x="6052" dy="14.5">type I interferon</tspan><tspan x="6052" dy="14.5">production</tspan></text></g>
<g id="prottrans" class="n"><rect x="6481" y="761.5" width="115" height="48"/><text x="6538.5" y="790">protein transport</text></g>
<g id="posreginnate" class="n"><rect x="2230" y="881" width="129" height="48"/><text x="2294.5" y="895">positive regulation<tspan x="2294.5" dy="14.5">of innate immune</tspan><tspan x="2294.5" dy="14.5">response</tspan></text></g>
<g id="regdrv" class="n"><rect x="2939" y="881" width="120" height="48"/><text x="2999" y="895">regulation of<tspan x="2999" dy="14.5">defense response</tspan><tspan x="2999" dy="14.5">to virus</tspan></text></g>
<g id="pqc" class="n"><rect x="4813" y="858" width="102" height="94"/><text x="4864" y="873.25">protein quality<tspan x="4864" dy="14.5">control for</tspan><tspan x="4864" dy="14.5">misfolded or</tspan><tspan x="4864" dy="14.5">incompletely</tspan><tspan x="4864" dy="14.5">synthesized</tspan><tspan x="4864" dy="14.5">proteins</tspan></text></g>
<g id="erad" class="n"><rect x="4938" y="881" width="102" height="48"/><text x="4989" y="909.5">ERAD pathway</text></g>
<g id="udpcp" class="n lb"><rect x="5166" y="881" width="137" height="48"/><text x="5234.5" y="895">ubiquitin-dependent<tspan x="5234.5" dy="14.5">protein catabolic</tspan><tspan x="5234.5" dy="14.5">process</tspan></text></g>
<g id="negregifn" class="n lb"><rect x="5985" y="881" width="133" height="48"/><text x="6051.5" y="895">negative regulation<tspan x="6051.5" dy="14.5">of type I interferon</tspan><tspan x="6051.5" dy="14.5">production</tspan></text></g>
<g id="intprottrans" class="n"><rect x="6289" y="881" width="115" height="48"/><text x="6346.5" y="902.25">intracellular<tspan x="6346.5" dy="14.5">protein transport</tspan></text></g>
<g id="actinnate" class="n"><rect x="2242" y="1008" width="105" height="48"/><text x="2294.5" y="1022">activation of<tspan x="2294.5" dy="14.5">innate immune</tspan><tspan x="2294.5" dy="14.5">response</tspan></text></g>
<g id="negregdrv" class="n"><rect x="3053" y="1008" width="139" height="48"/><text x="3122.5" y="1022">negative regulation<tspan x="3122.5" dy="14.5">of defense response</tspan><tspan x="3122.5" dy="14.5">to virus</tspan></text></g>
<g id="ermpcp" class="n lb"><rect x="4804" y="1008" width="120" height="48"/><text x="4864" y="1022">ER-associated<tspan x="4864" dy="14.5">misfolded protein</tspan><tspan x="4864" dy="14.5">catabolic process</tspan></text></g>
<g id="pmudpcp" class="n"><rect x="5078" y="1000" width="151" height="64"/><text x="5153.5" y="1014.75">proteasome-mediated<tspan x="5153.5" dy="14.5">ubiquitin-dependent</tspan><tspan x="5153.5" dy="14.5">protein catabolic</tspan><tspan x="5153.5" dy="14.5">process</tspan></text></g>
<g id="ertocyt" class="n"><rect x="6145" y="1008" width="115" height="48"/><text x="6202.5" y="1022">endoplasmic<tspan x="6202.5" dy="14.5">reticulum to</tspan><tspan x="6202.5" dy="14.5">cytosol transport</tspan></text></g>
<g id="protexit" class="n"><rect x="6285" y="1008" width="123" height="48"/><text x="6346.5" y="1022">protein exit<tspan x="6346.5" dy="14.5">from endoplasmic</tspan><tspan x="6346.5" dy="14.5">reticulum</tspan></text></g>
<g id="iirasp" class="n"><rect x="2474" y="1112.5" width="134" height="48"/><text x="2541" y="1126.5">innate immune<tspan x="2541" dy="14.5">response-activating</tspan><tspan x="2541" dy="14.5">signaling pathway</tspan></text></g>
<g id="uderad" class="n blue"><rect x="5002" y="1112.5" width="137" height="48"/><text x="5070.5" y="1133.75">ubiquitin-dependent<tspan x="5070.5" dy="14.5">ERAD pathway</tspan></text></g>
<g id="retro" class="n blue"><rect x="6140" y="1112.5" width="124" height="48"/><text x="6202" y="1126.5">retrograde protein<tspan x="6202" dy="14.5">transport, ER</tspan><tspan x="6202" dy="14.5">to cytosol</tspan></text></g>
<g id="prr" class="n"><rect x="4048" y="1211.5" width="130" height="48"/><text x="4113" y="1225.5">pattern recognition<tspan x="4113" dy="14.5">receptor signaling</tspan><tspan x="4113" dy="14.5">pathway</tspan></text></g>
<g id="intrec" class="n"><rect x="4362" y="1211.5" width="123" height="48"/><text x="4423.5" y="1225.5">intracellular<tspan x="4423.5" dy="14.5">receptor signaling</tspan><tspan x="4423.5" dy="14.5">pathway</tspan></text></g>
<g id="regprr" class="n"><rect x="4073" y="1309" width="131" height="64"/><text x="4138.5" y="1323.75">regulation of<tspan x="4138.5" dy="14.5">pattern recognition</tspan><tspan x="4138.5" dy="14.5">receptor signaling</tspan><tspan x="4138.5" dy="14.5">pathway</tspan></text></g>
<g id="cytprr" class="n"><rect x="4362" y="1309" width="123" height="64"/><text x="4423.5" y="1323.75">cytosolic pattern<tspan x="4423.5" dy="14.5">recognition</tspan><tspan x="4423.5" dy="14.5">receptor signaling</tspan><tspan x="4423.5" dy="14.5">pathway</tspan></text></g>
<g id="regvic" class="n"><rect x="4304" y="1421.5" width="130" height="94"/><text x="4369" y="1436.75">regulation of<tspan x="4369" dy="14.5">viral-induced</tspan><tspan x="4369" dy="14.5">cytoplasmic</tspan><tspan x="4369" dy="14.5">pattern recognition</tspan><tspan x="4369" dy="14.5">receptor signaling</tspan><tspan x="4369" dy="14.5">pathway</tspan></text></g>
<g id="rigi" class="n"><rect x="4560" y="1443.5" width="102" height="48"/><text x="4611" y="1464.75">RIG-I signaling<tspan x="4611" dy="14.5">pathway</tspan></text></g>
<g id="negregvic" class="n"><rect x="4304" y="1562" width="133" height="94"/><text x="4370.5" y="1577.25">negative regulation<tspan x="4370.5" dy="14.5">of viral-induced</tspan><tspan x="4370.5" dy="14.5">cytoplasmic</tspan><tspan x="4370.5" dy="14.5">pattern recognition</tspan><tspan x="4370.5" dy="14.5">receptor signaling</tspan><tspan x="4370.5" dy="14.5">pathway</tspan></text></g>
<g id="regrigi" class="n"><rect x="4467" y="1585.5" width="101" height="48"/><text x="4517.5" y="1599.5">regulation of<tspan x="4517.5" dy="14.5">RIG-I signaling</tspan><tspan x="4517.5" dy="14.5">pathway</tspan></text></g>
<g id="negregrigi" class="n lb"><rect x="4450" y="1705.5" width="134" height="48"/><text x="4517" y="1719.5">negative regulation<tspan x="4517" dy="14.5">of RIG-I signaling</tspan><tspan x="4517" dy="14.5">pathway</tspan></text></g>
</g>
</svg>
